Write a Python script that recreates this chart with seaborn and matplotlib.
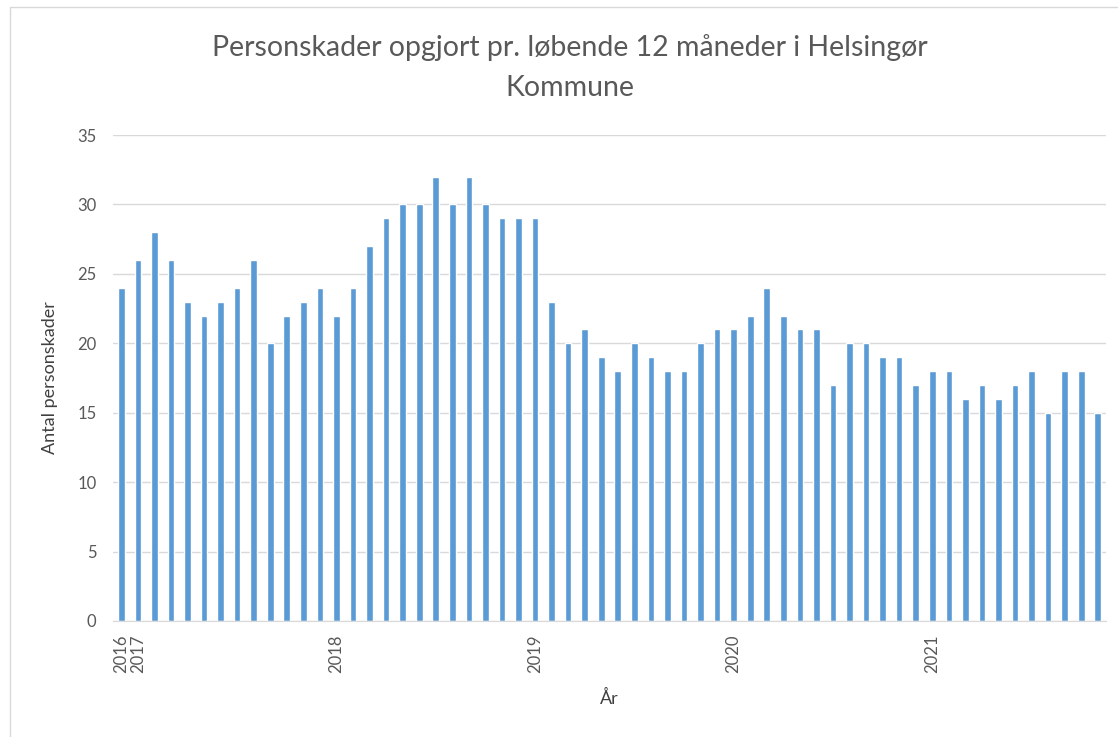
import numpy as np
import pandas as pd
import matplotlib.pyplot as plt
import seaborn as sns
from matplotlib.patches import Rectangle

# Personskader, løbende 12 måneder (en søjle pr. måned)
values = [24, 26, 28, 26, 23, 22, 23, 24, 26, 20, 22, 23,
          24, 22, 24, 27, 29, 30, 30, 32, 30, 32, 30, 29,
          29, 29, 23, 20, 21, 19, 18, 20, 19, 18, 18, 20,
          21, 21, 22, 24, 22, 21, 21, 17, 20, 20, 19, 19,
          17, 18, 18, 16, 17, 16, 17, 18, 15, 18, 18, 15]
year_pos = [0, 1, 13, 25, 37, 49]
year_labels = ['2016', '2017', '2018', '2019', '2020', '2021']
yticks = [0, 5, 10, 15, 20, 25, 30, 35]

df = pd.DataFrame({'maaned': np.arange(len(values)), 'antal': values})

sns.set_style('white')
plt.rcParams['font.family'] = ['Lato', 'DejaVu Sans']

fig = plt.figure(figsize=(11.18, 7.37), dpi=100)
ax = fig.add_axes([0.1011, 0.1574, 0.8882, 0.6594])

sns.barplot(data=df, x='maaned', y='antal', color='#5B9BD5', saturation=1,
            width=0.4, ax=ax)

ax.set_ylim(0, 35)
ax.set_yticks(yticks)
ax.set_xlim(-0.5, len(values) - 0.5)
ax.set_xticks(year_pos)
ax.set_xticklabels(year_labels, rotation=90)
ax.tick_params(axis='both', length=0, labelsize=12, labelcolor='#595959')
ax.tick_params(axis='y', pad=12)
ax.tick_params(axis='x', pad=10)

ax.yaxis.grid(True, color='#D9D9D9', linewidth=1)
ax.set_axisbelow(True)
for s in ['top', 'left', 'right']:
    ax.spines[s].set_visible(False)
ax.spines['bottom'].set_color('#D9D9D9')

ax.set_ylabel('Antal personskader', fontsize=13, color='#404040', labelpad=14)
ax.set_xlabel('År', fontsize=13, color='#404040', labelpad=12)

fig.text(0.51, 0.936, 'Personskader opgjort pr. løbende 12 måneder i Helsingør',
         ha='center', va='center', fontsize=20.5, color='#595959')
fig.text(0.51, 0.880, 'Kommune', ha='center', va='center', fontsize=20.5, color='#595959')

# tynd ramme om diagramområdet
fig.add_artist(Rectangle((0.009, -0.01), 1.2, 1.0, transform=fig.transFigure,
                         fill=False, edgecolor='#D9D9D9', linewidth=1))

fig.savefig('out.png', dpi=100)
